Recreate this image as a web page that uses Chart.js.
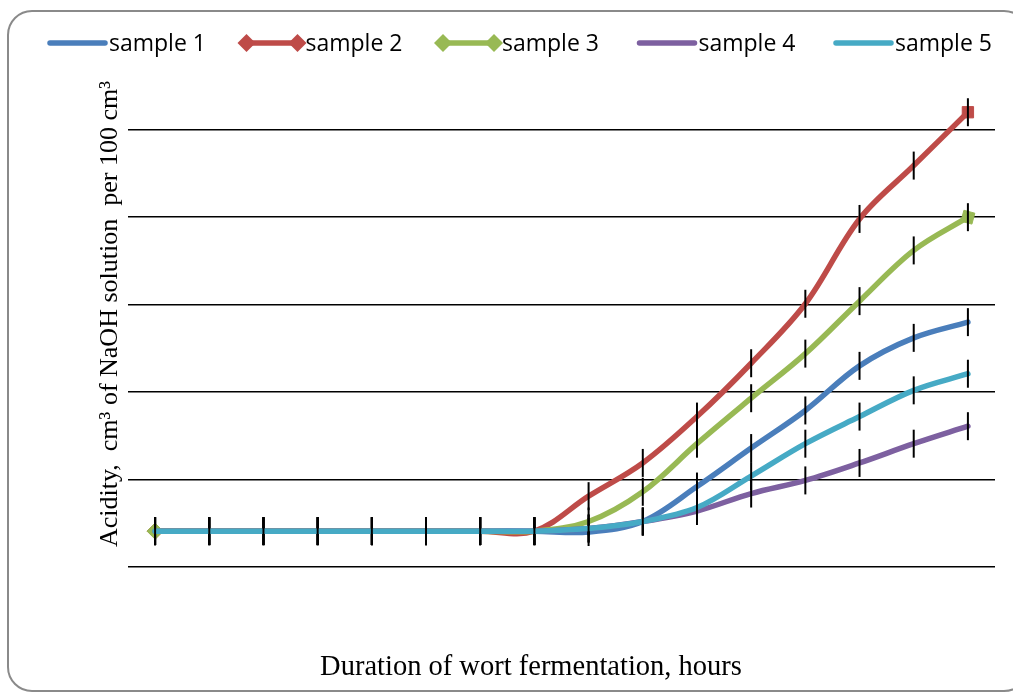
<!DOCTYPE html>
<html>
<head>
<meta charset="utf-8">
<title>Acidity during wort fermentation</title>
<script src="https://cdn.jsdelivr.net/npm/chart.js@4.4.1/dist/chart.umd.min.js"></script>
<style>
  html, body { margin: 0; padding: 0; background: #fff; }
  #wrap { width: 1013px; height: 693px; }
</style>
</head>
<body>
<div id="wrap"><canvas id="acidityChart" width="1013" height="693"></canvas></div>
<script>
// sampling points along the fermentation (axis labels are hidden)
const timePoints = ['0', '1', '2', '3', '4', '5', '6', '7', '8', '9', '10', '11', '12', '13', '14', '15'];

const sample1 = [0.41, 0.41, 0.41, 0.41, 0.41, 0.41, 0.41, 0.41, 0.40, 0.52, 0.92, 1.36, 1.79, 2.30, 2.62, 2.80];
const sample2 = [0.41, 0.41, 0.41, 0.41, 0.41, 0.41, 0.41, 0.41, 0.81, 1.19, 1.72, 2.33, 3.01, 3.98, 4.59, 5.20];
const sample3 = [0.41, 0.41, 0.41, 0.41, 0.41, 0.41, 0.41, 0.41, 0.52, 0.86, 1.41, 1.93, 2.44, 3.04, 3.62, 4.00];
const sample4 = [0.41, 0.41, 0.41, 0.41, 0.41, 0.41, 0.41, 0.41, 0.44, 0.52, 0.64, 0.84, 0.99, 1.19, 1.41, 1.61];
const sample5 = [0.41, 0.41, 0.41, 0.41, 0.41, 0.41, 0.41, 0.41, 0.44, 0.52, 0.68, 1.04, 1.41, 1.72, 2.02, 2.21];

const errorMargin = 0.16;

const seriesNames = ['sample 1', 'sample 2', 'sample 3', 'sample 4', 'sample 5'];
const seriesColors = ['#4A7EBB', '#BE4B48', '#98B954', '#7D60A0', '#46AAC5'];
const seriesData = [sample1, sample2, sample3, sample4, sample5];
// legend markers: samples 2 and 3 carry diamonds
const legendDiamonds = [false, true, true, false, false];

const last = timePoints.length - 1;

// end markers: diamond at the start, square at the end (samples 2, 3 only)
function markerStyle(i) {
    return ctx => ctx.dataIndex === 0 ? 'rectRot' : 'rect';
}
function markerRadius(i) {
    if (!legendDiamonds[i]) return 0;
    return ctx => ctx.dataIndex === 0 ? 8 : (ctx.dataIndex === last ? 8 : 0);
}

const datasets = seriesData.map((values, i) => ({
    label: seriesNames[i],
    data: values,
    borderColor: seriesColors[i],
    backgroundColor: seriesColors[i],
    borderWidth: 5.5,
    borderCapStyle: 'round',
    tension: 0.35,
    pointStyle: markerStyle(i),
    pointRadius: markerRadius(i),
    pointRotation: ctx => (i === 2 && ctx.dataIndex === last) ? 15 : 0,
    pointBackgroundColor: seriesColors[i],
    pointBorderColor: seriesColors[i],
    pointBorderWidth: 1,
    // later samples are painted on top
    order: seriesData.length - i,
    fill: false
}));

const pageDecor = {
    id: 'pageDecor',
    beforeDraw(chart) {
        const c = chart.ctx;
        c.save();
        c.fillStyle = '#fff';
        c.fillRect(0, 0, chart.width, chart.height);
        c.strokeStyle = '#8a8a8a';
        c.lineWidth = 2;
        c.beginPath();
        c.roundRect(8, 11, 1020, 680, 24);
        c.stroke();
        c.restore();
    },
    afterDatasetDraw(chart, args) {
        // vertical error bars at each measurement
        const c = chart.ctx;
        const yScale = chart.scales.y;
        const values = chart.data.datasets[args.index].data;
        c.save();
        c.strokeStyle = '#000';
        c.lineWidth = 2;
        args.meta.data.forEach((pt, j) => {
            const top = yScale.getPixelForValue(values[j] + errorMargin);
            const bottom = yScale.getPixelForValue(values[j] - errorMargin);
            c.beginPath();
            c.moveTo(pt.x, top);
            c.lineTo(pt.x, bottom);
            c.stroke();
        });
        c.restore();
    },
    afterDraw(chart) {
        const c = chart.ctx;
        c.save();

        // legend row
        const legendLeft = 50, legendStep = 196.5, legendY = 43, swatch = 55;
        c.font = '23px "Open Sans"';
        c.textBaseline = 'middle';
        c.textAlign = 'left';
        seriesNames.forEach((name, i) => {
            const x = legendLeft + i * legendStep;
            c.strokeStyle = seriesColors[i];
            c.lineWidth = 5.5;
            c.lineCap = 'round';
            c.beginPath();
            c.moveTo(x, legendY);
            c.lineTo(x + swatch, legendY);
            c.stroke();
            if (legendDiamonds[i]) {
                c.fillStyle = seriesColors[i];
                [x, x + swatch - 4].forEach(cx => {
                    c.beginPath();
                    c.moveTo(cx, legendY - 9);
                    c.lineTo(cx + 9, legendY);
                    c.lineTo(cx, legendY + 9);
                    c.lineTo(cx - 9, legendY);
                    c.closePath();
                    c.fill();
                });
            }
            c.fillStyle = '#000';
            c.fillText(name, x + swatch + 4, legendY + 1);
        });

        // axis titles
        c.fillStyle = '#000';
        c.textBaseline = 'alphabetic';
        c.textAlign = 'center';
        c.font = '28.5px "Liberation Serif"';
        c.fillText('Duration of wort fermentation, hours', 531, 675);

        c.translate(117, 314);
        c.rotate(-Math.PI / 2);
        c.font = '26px "Liberation Serif"';
        c.fillText('Acidity,  cm\u00B3 of NaOH solution  per 100 cm\u00B3', 0, 0);
        c.restore();
    }
};

const ctx = document.getElementById('acidityChart').getContext('2d');

const acidityChart = new Chart(ctx, {
    type: 'line',
    data: {
        labels: timePoints,
        datasets: datasets
    },
    options: {
        responsive: false,
        animation: false,
        layout: {
            padding: { left: 128, right: 18, top: 86, bottom: 126 }
        },
        plugins: {
            legend: { display: false },
            tooltip: { enabled: false }
        },
        scales: {
            x: {
                display: false,
                offset: true
            },
            y: {
                min: 0,
                max: 5.5,
                ticks: { display: false, stepSize: 1 },
                afterBuildTicks: axis => {
                    axis.ticks = axis.ticks.filter(t => Number.isInteger(t.value));
                },
                grid: { color: '#000', lineWidth: 1.6, drawTicks: false },
                border: { display: false }
            }
        }
    },
    plugins: [pageDecor]
});
</script>
</body>
</html>
